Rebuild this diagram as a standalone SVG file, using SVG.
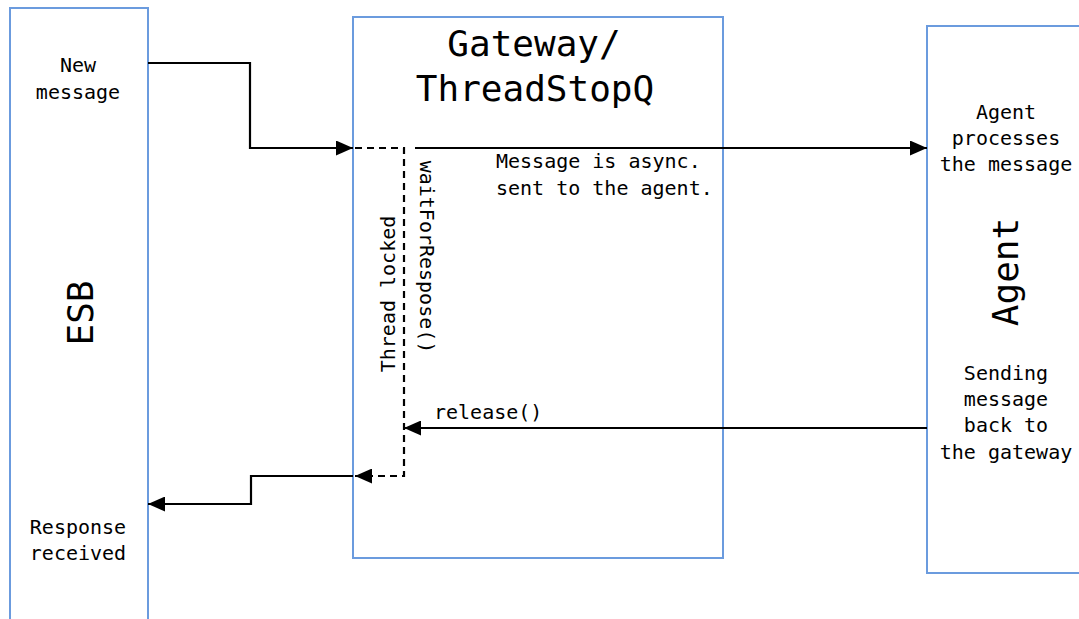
<svg xmlns="http://www.w3.org/2000/svg" width="1079" height="619" viewBox="0 0 1079 619">
  <defs>
    <style>
      .box { fill: #ffffff; stroke: #6b9bde; stroke-width: 2; }
      .t { font-family: "DejaVu Sans Mono", "Liberation Mono", monospace; font-size: 20px; fill: #000; }
      .c { text-anchor: middle; }
      .big { font-size: 36px; }
      .ln { fill: none; stroke: #000; stroke-width: 2.2; }
      .dash { fill: none; stroke: #000; stroke-width: 2.2; stroke-dasharray: 7 5; }
    </style>
    <marker id="arr" viewBox="0 0 17 15" refX="17" refY="7.5" markerWidth="17" markerHeight="15" markerUnits="userSpaceOnUse" orient="auto">
      <path d="M0,0 L17,7.5 L0,15 Z" fill="#000"/>
    </marker>
  </defs>

  <rect width="1079" height="619" fill="#ffffff"/>

  <g id="esb">
    <rect class="box" x="10" y="8" width="138" height="640"/>
    <text class="t c" x="78" y="72">New</text>
    <text class="t c" x="78" y="99">message</text>
    <text class="t big c" transform="translate(93,313) rotate(-90)">ESB</text>
    <text class="t c" x="78" y="534">Response</text>
    <text class="t c" x="78" y="560">received</text>
  </g>

  <g id="gateway">
    <rect class="box" x="353" y="17" width="370" height="541"/>
    <text class="t big c" x="534" y="56">Gateway/</text>
    <text class="t big c" x="535" y="101">ThreadStopQ</text>
    <text class="t" x="496" y="168">Message is async.</text>
    <text class="t" x="496" y="195">sent to the agent.</text>
    <text class="t c" transform="translate(395,294) rotate(-90)">Thread locked</text>
    <text class="t c" transform="translate(420,257) rotate(90)">waitForRespose()</text>
    <text class="t" x="434" y="419">release()</text>
  </g>

  <g id="agent">
    <rect class="box" x="927" y="26" width="170" height="547"/>
    <text class="t c" x="1006" y="119">Agent</text>
    <text class="t c" x="1006" y="145">processes</text>
    <text class="t c" x="1006" y="171">the message</text>
    <text class="t big c" transform="translate(1018,272) rotate(-90)">Agent</text>
    <text class="t c" x="1006" y="380">Sending</text>
    <text class="t c" x="1006" y="406">message</text>
    <text class="t c" x="1006" y="432">back to</text>
    <text class="t c" x="1006" y="459">the gateway</text>
  </g>

  <g id="connectors">
    <path class="ln" d="M148,63 H250 V148 H353" marker-end="url(#arr)"/>
    <path class="dash" d="M355,148 H404 V476 H355" marker-end="url(#arr)"/>
    <path class="ln" d="M415,148 H927" marker-end="url(#arr)"/>
    <path class="ln" d="M927,428 H404" marker-end="url(#arr)"/>
    <path class="ln" d="M353,476 H251 V504 H148" marker-end="url(#arr)"/>
  </g>
</svg>
